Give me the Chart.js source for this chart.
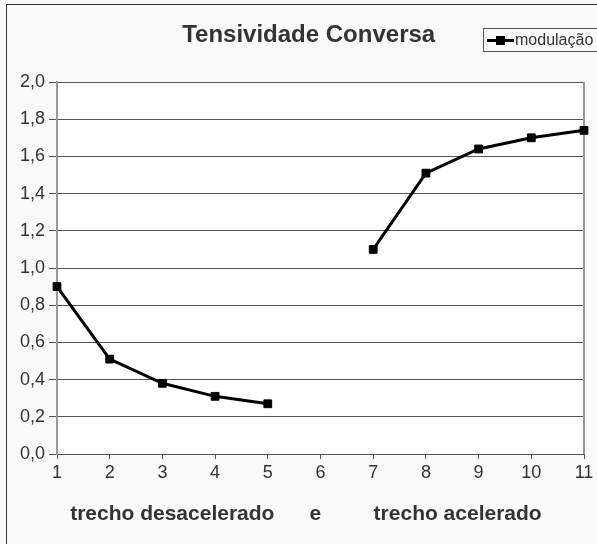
<!DOCTYPE html>
<html>
<head>
<meta charset="utf-8">
<script src="https://cdn.jsdelivr.net/npm/chart.js@4"></script>
<style>
  html, body { margin: 0; padding: 0; width: 597px; height: 544px; overflow: hidden; background: #f9f9f9; }
  #wrap { position: absolute; left: 0; top: 0; width: 597px; height: 544px; }
  #frame { position: absolute; left: 6px; top: 4px; width: 800px; height: 800px; border: 1px solid #333; pointer-events: none; }
  #legend { position: absolute; left: 483px; top: 28px; width: 130px; height: 22px; border: 1px solid #555;
            font-family: "Liberation Sans", Arial, sans-serif; font-size: 16px; color: #333; line-height: 22px; white-space: nowrap; }
  #legend .sym { position: absolute; left: 3px; top: 10px; width: 27px; height: 3px; background: #000; }
  #legend .mk { position: absolute; left: 12px; top: 7px; width: 9px; height: 9px; background: #000; }
  #legend .txt { position: absolute; left: 31px; top: 0; }
</style>
</head>
<body>
<div id="wrap"><canvas id="c" width="597" height="544"></canvas></div>
<div id="frame"></div>
<div id="legend"><span class="sym"></span><span class="mk"></span><span class="txt">modulação</span></div>
<script>
const categories = ['1','2','3','4','5','6','7','8','9','10','11'];
const seriesName = 'modulação';
const modulacao = [0.90, 0.51, 0.38, 0.31, 0.27, null, 1.10, 1.51, 1.64, 1.70, 1.74];
const yTicks = [0, 0.2, 0.4, 0.6, 0.8, 1.0, 1.2, 1.4, 1.6, 1.8, 2.0];
const chartTitle = '     Tensividade Conversa';
const xTitle = 'trecho desacelerado      e         trecho acelerado     ';

const FONT = '"Liberation Sans", Arial, sans-serif';

const plotBg = {
  id: 'plotBg',
  beforeDraw(chart) {
    const {ctx, chartArea: a} = chart;
    ctx.save();
    ctx.fillStyle = '#ffffff';
    ctx.fillRect(a.left, a.top, a.right - a.left, a.bottom - a.top);
    ctx.restore();
  },
  beforeDatasetsDraw(chart) {
    const {ctx, chartArea: a} = chart;
    ctx.save();
    ctx.strokeStyle = '#999';
    ctx.lineWidth = 2;
    ctx.beginPath();
    ctx.moveTo(a.right, a.top);
    ctx.lineTo(a.right, a.bottom);
    ctx.stroke();
    ctx.restore();
  }
};

new Chart(document.getElementById('c'), {
  type: 'line',
  data: {
    labels: categories,
    datasets: [{
      label: seriesName,
      data: modulacao,
      borderColor: '#000',
      backgroundColor: '#000',
      borderWidth: 3,
      pointStyle: 'rect',
      pointRadius: 5.5,
      pointBorderWidth: 1,
      pointBackgroundColor: '#000',
      pointBorderColor: '#000',
      spanGaps: false,
      clip: false,
      tension: 0
    }]
  },
  options: {
    responsive: false,
    animation: false,
    layout: { padding: { left: 0, right: 13, top: 0, bottom: 0 } },
    plugins: {
      legend: { display: false },
      tooltip: { enabled: false },
      title: {
        display: true,
        text: chartTitle,
        color: '#333',
        font: { family: FONT, size: 24, weight: 'bold', lineHeight: 1.2 },
        padding: { top: 21, bottom: 32.2 }
      }
    },
    scales: {
      x: {
        type: 'category',
        offset: false,
        grid: { drawOnChartArea: false, drawTicks: true, tickLength: 5, color: '#555', lineWidth: 1 },
        border: { display: true, color: '#555', width: 1 },
        ticks: { color: '#333', font: { family: FONT, size: 18 }, padding: 3, maxRotation: 0, autoSkip: false },
        title: {
          display: true,
          text: xTitle,
          color: '#333',
          font: { family: FONT, size: 21, weight: 'bold', lineHeight: 1.2 },
          padding: { top: 0, bottom: 17 }
        },
        afterFit(s) { s.height = 90; }
      },
      y: {
        min: 0,
        max: 2,
        afterBuildTicks(s) { s.ticks = yTicks.map(v => ({ value: v })); },
        grid: { color: '#555', lineWidth: 1, drawTicks: true, tickLength: 8 },
        border: { display: true, color: '#999', width: 2 },
        ticks: {
          color: '#333',
          font: { family: FONT, size: 18 },
          padding: 4,
          callback: v => Number(v).toFixed(1).replace('.', ',')
        },
        afterFit(s) { s.width = 57; }
      }
    }
  },
  plugins: [plotBg]
});
</script>
</body>
</html>
